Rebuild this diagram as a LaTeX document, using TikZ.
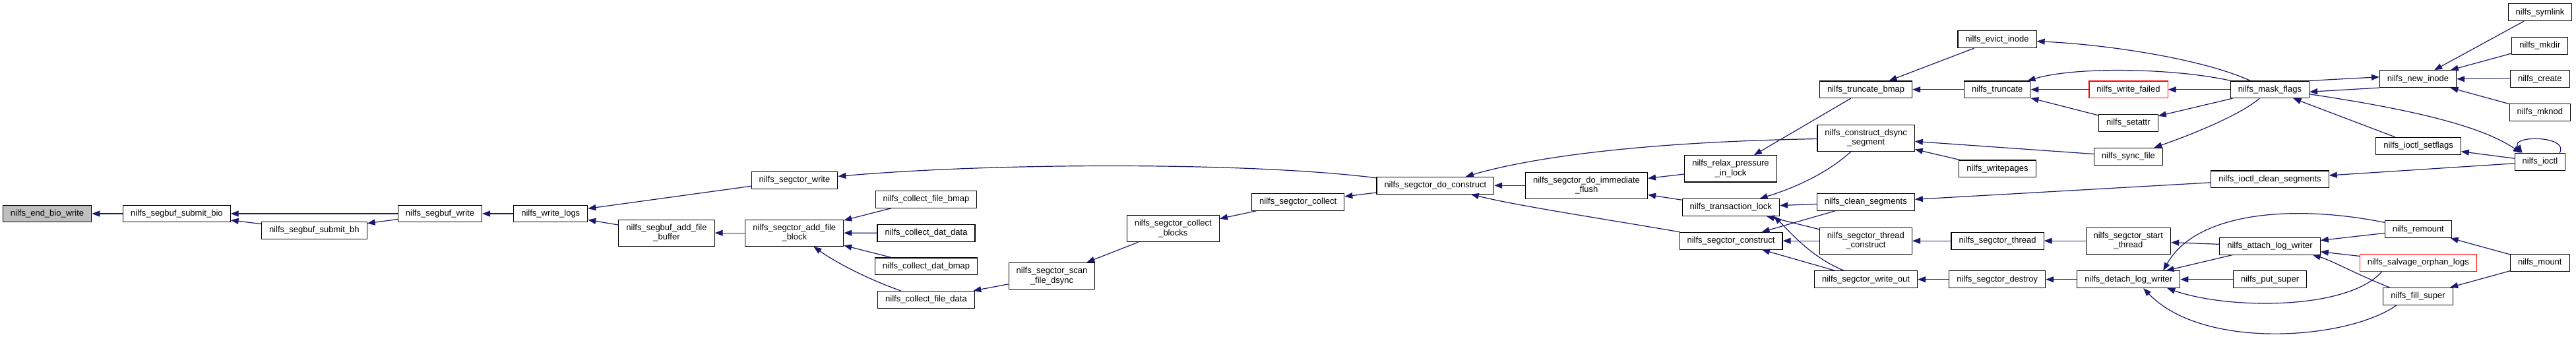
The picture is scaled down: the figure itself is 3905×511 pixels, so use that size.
\documentclass[tikz,border=0pt]{standalone}
\usepackage{fontspec}
\setmainfont{Liberation Sans}
\usepackage{tikz}
\usetikzlibrary{arrows.meta}
\definecolor{cnavy}{HTML}{191970}
\definecolor{cgray}{HTML}{BFBFBF}
\definecolor{cred}{HTML}{FF0000}

\begin{document}
\begin{tikzpicture}[x=1pt, y=1pt,
    fn/.style={draw=black, line width=1.1pt, fill=white, font=\fontsize{13}{14.5}\selectfont,
      inner xsep=11.5pt, inner ysep=6pt, minimum height=25.7pt, align=center},
    fn2/.style={fn, minimum height=40.3pt},
    call/.style={cnavy, line width=1.2pt, -{Triangle[length=12pt,width=9pt]}}]
  \useasboundingbox[fill=white] (0,0) rectangle (3905,-511);

  \node[fn, fill=cgray] (endbio) at (71.6,-324) {nilfs\_end\_bio\_write};
  \node[fn] (submitbio) at (267.9,-324) {nilfs\_segbuf\_submit\_bio};
  \node[fn] (submitbh) at (476.3,-349.3) {nilfs\_segbuf\_submit\_bh};
  \node[fn] (segbufwrite) at (667,-324) {nilfs\_segbuf\_write};
  \node[fn] (writelogs) at (834.8,-324) {nilfs\_write\_logs};
  \node[fn] (segctorwrite) at (1204.5,-273.2) {nilfs\_segctor\_write};
  \node[fn2] (addbuffer) at (1010.5,-353.2) {nilfs\_segbuf\_add\_file\\\_buffer};
  \node[fn2] (addblock) at (1204.3,-353.2) {nilfs\_segctor\_add\_file\\\_block};
  \node[fn] (filebmap) at (1404,-302.2) {nilfs\_collect\_file\_bmap};
  \node[fn] (datdata) at (1404,-353.3) {nilfs\_collect\_dat\_data};
  \node[fn] (datbmap) at (1404,-403.8) {nilfs\_collect\_dat\_bmap};
  \node[fn] (filedata) at (1404,-454.3) {nilfs\_collect\_file\_data};
  \node[fn2] (scandsync) at (1594.5,-418.5) {nilfs\_segctor\_scan\\\_file\_dsync};
  \node[fn2] (collectblocks) at (1778.3,-346.5) {nilfs\_segctor\_collect\\\_blocks};
  \node[fn] (collect) at (1967.7,-306.5) {nilfs\_segctor\_collect};
  \node[fn] (doconstruct) at (2175.8,-281.2) {nilfs\_segctor\_do\_construct};
  \node[fn2] (immflush) at (2405,-281.2) {nilfs\_segctor\_do\_immediate\\\_flush};
  \node[fn2] (relax) at (2623.5,-255.8) {nilfs\_relax\_pressure\\\_in\_lock};
  \node[fn] (translock) at (2623.8,-314.5) {nilfs\_transaction\_lock};
  \node[fn] (construct) at (2624,-365.2) {nilfs\_segctor\_construct};
  \node[fn] (truncbmap) at (2828.5,-135.8) {nilfs\_truncate\_bmap};
  \node[fn2] (dsync) at (2828.6,-209.2) {nilfs\_construct\_dsync\\\_segment};
  \node[fn] (cleanseg) at (2828.3,-306.5) {nilfs\_clean\_segments};
  \node[fn2] (threadcons) at (2828.4,-365.2) {nilfs\_segctor\_thread\\\_construct};
  \node[fn] (writeout) at (2828.5,-423.7) {nilfs\_segctor\_write\_out};
  \node[fn] (evict) at (3027.5,-59.7) {nilfs\_evict\_inode};
  \node[fn] (truncate) at (3027.7,-135.8) {nilfs\_truncate};
  \node[fn] (writepages) at (3028,-255.8) {nilfs\_writepages};
  \node[fn] (thread) at (3028,-365.2) {nilfs\_segctor\_thread};
  \node[fn] (destroy) at (3027.7,-423.7) {nilfs\_segctor\_destroy};
  \node[fn, draw=cred] (writefailed) at (3226.5,-135.8) {nilfs\_write\_failed};
  \node[fn] (setattr) at (3226.4,-186.5) {nilfs\_setattr};
  \node[fn] (syncfile) at (3226.4,-237.2) {nilfs\_sync\_file};
  \node[fn2] (startthread) at (3226.3,-365.2) {nilfs\_segctor\_start\\\_thread};
  \node[fn] (detach) at (3226.7,-423.7) {nilfs\_detach\_log\_writer};
  \node[fn] (maskflags) at (3441,-135.8) {nilfs\_mask\_flags};
  \node[fn] (ioctlclean) at (3441,-271.8) {nilfs\_ioctl\_clean\_segments};
  \node[fn] (attach) at (3441,-373.2) {nilfs\_attach\_log\_writer};
  \node[fn] (putsuper) at (3441.1,-423.7) {nilfs\_put\_super};
  \node[fn] (newinode) at (3665.5,-119.7) {nilfs\_new\_inode};
  \node[fn] (setflags) at (3666,-221.2) {nilfs\_ioctl\_setflags};
  \node[fn] (remount) at (3665.8,-347.7) {nilfs\_remount};
  \node[fn, draw=cred] (salvage) at (3665.8,-398.3) {nilfs\_salvage\_orphan\_logs};
  \node[fn] (fillsuper) at (3665.5,-449.2) {nilfs\_fill\_super};
  \node[fn] (symlink) at (3850.5,-18.8) {nilfs\_symlink};
  \node[fn] (mkdir) at (3850.3,-69.3) {nilfs\_mkdir};
  \node[fn] (create) at (3850.3,-119.7) {nilfs\_create};
  \node[fn] (mknod) at (3850.3,-170.3) {nilfs\_mknod};
  \node[fn] (ioctl) at (3850.4,-245.3) {nilfs\_ioctl};
  \node[fn] (mount) at (3850.3,-398.3) {nilfs\_mount};

  \foreach \a/\b in {submitbio/endbio, segbufwrite/submitbio, submitbh/submitbio, segbufwrite/submitbh,
      writelogs/segbufwrite, segctorwrite/writelogs, addbuffer/writelogs, addblock/addbuffer,
      filebmap/addblock, datdata/addblock, datbmap/addblock, scandsync/filedata,
      collectblocks/scandsync, collect/collectblocks, doconstruct/collect, immflush/doconstruct,
      relax/immflush, translock/immflush, truncbmap/relax, cleanseg/translock, threadcons/translock,
      cleanseg/construct, threadcons/construct, writeout/construct, evict/truncbmap, truncate/truncbmap,
      syncfile/dsync, writepages/dsync, ioctlclean/cleanseg, thread/threadcons, destroy/writeout,
      writefailed/truncate, setattr/truncate, maskflags/writefailed, maskflags/setattr,
      startthread/thread, detach/destroy, attach/startthread, attach/detach, putsuper/detach,
      remount/attach, salvage/attach, symlink/newinode, mkdir/newinode, create/newinode,
      mknod/newinode, setflags/maskflags, ioctl/setflags, ioctl/ioctlclean, mount/remount,
      mount/fillsuper}
    \draw[call] (\a) -- (\b);

  \draw[call] (filedata) .. controls (1320,-425) and (1270,-400) .. (addblock);
  \draw[call] (doconstruct) .. controls (1900,-246) and (1515,-246) .. (segctorwrite);
  \draw[call] (dsync) .. controls (2450,-216) and (2300,-245) .. (doconstruct);
  \draw[call] (construct) .. controls (2420,-330) and (2300,-312) .. (doconstruct);
  \draw[call] (dsync) .. controls (2775,-258) and (2730,-282) .. (translock);
  \draw[call] (writeout) .. controls (2745,-390) and (2712,-350) .. ([xshift=-9pt]translock.south east);
  \draw[call] (maskflags) .. controls (3340,-90) and (3200,-68) .. (evict);
  \draw[call] (maskflags) .. controls (3300,-104) and (3150,-100) .. (truncate);
  \draw[call] (maskflags) .. controls (3395,-175) and (3320,-205) .. (syncfile);
  \draw[call] (maskflags.north east) -- ([yshift=3pt]newinode.west);
  \draw[call] (newinode.south west) -- ([yshift=-3.5pt]maskflags.east);
  \draw[call] ([yshift=-7pt]maskflags.east) .. controls (3650,-165) and (3760,-190) .. ([xshift=10pt]ioctl.north west);
  \draw[call] ([xshift=-9pt]ioctl.north east) .. controls (3895,-205) and (3805,-205) .. ([xshift=12pt]ioctl.north west);
  \draw[call] (remount) .. controls (3480,-310) and (3330,-320) .. ([xshift=-26pt]detach.north east);
  \draw[call] ([xshift=34pt]salvage.south west) .. controls (3560,-470) and (3380,-470) .. ([xshift=-20pt]detach.south east);
  \draw[call] ([xshift=21pt]fillsuper.south west) .. controls (3560,-515) and (3340,-532) .. ([xshift=-56pt]detach.south east);
  \draw[call] ([xshift=10pt]fillsuper.north west) .. controls (3570,-415) and (3535,-395) .. ([xshift=-12pt]attach.south east);
\end{tikzpicture}
\end{document}
